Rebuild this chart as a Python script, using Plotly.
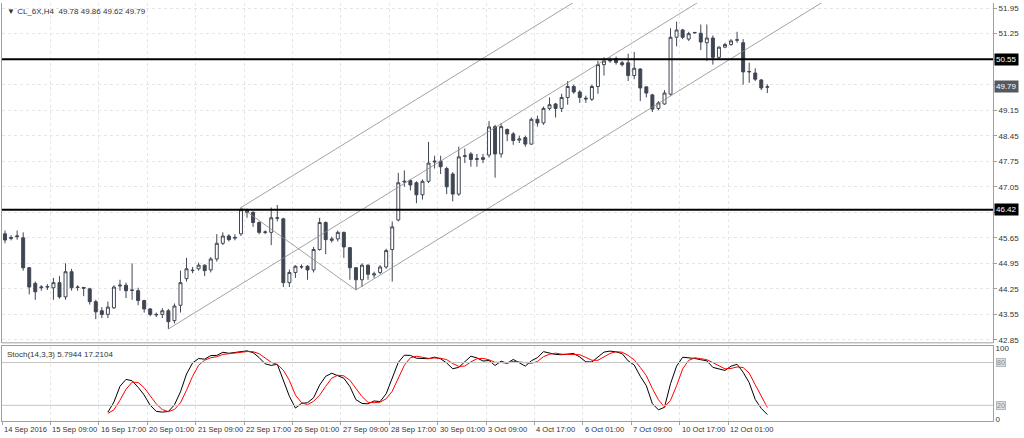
import numpy as np
import plotly.graph_objects as go

# H4 candles: open, close, high, low
opens = [45.76, 45.63, 45.68, 45.65, 44.83, 44.40, 44.28, 44.30, 44.28, 44.42,
         44.03, 44.72, 44.30, 44.29, 44.25, 43.90, 43.65, 43.55, 43.73, 44.33,
         44.35, 44.22, 44.20, 43.93, 43.70, 43.55, 43.55, 43.65, 43.38, 43.80,
         44.53, 44.75, 44.80, 44.90, 44.77, 45.07, 45.50, 45.70, 45.64, 45.76,
         46.40, 46.35, 46.07, 45.80, 45.80, 46.20, 46.17, 44.42, 44.70, 44.85,
         44.87, 44.77, 45.33, 46.07, 45.58, 45.62, 45.80, 45.38, 44.83, 44.50,
         44.90, 44.63, 44.70, 44.85, 45.33, 46.14, 47.18, 47.22, 47.16, 46.83,
         47.20, 47.73, 47.75, 47.55, 47.40, 46.85, 47.88, 47.95, 47.80, 47.80,
         47.92, 48.70, 47.95, 48.62, 48.50, 48.33, 48.40, 48.22, 48.90, 48.80,
         49.20, 49.32, 49.20, 49.50, 49.80, 49.65, 49.48, 49.45, 49.80, 50.40,
         50.50, 50.56, 50.45, 50.45, 50.10, 50.28, 49.79, 49.57, 49.20, 49.32,
         49.59, 51.15, 51.35, 51.10, 51.27, 51.26, 51.00, 51.13, 50.60, 50.88,
         50.95, 51.07, 51.00, 50.20, 50.17, 49.98, 49.78]
closes = [45.59, 45.66, 45.70, 44.83, 44.30, 44.17, 44.30, 44.31, 44.42, 44.03,
          44.72, 44.28, 44.29, 44.27, 43.90, 43.62, 43.55, 43.75, 44.30, 44.35,
          44.20, 44.21, 43.93, 43.70, 43.55, 43.54, 43.65, 43.35, 43.78, 44.42,
          44.80, 44.76, 44.90, 44.75, 45.07, 45.50, 45.70, 45.60, 45.66, 46.42,
          46.35, 46.07, 45.80, 45.81, 46.20, 46.19, 44.42, 44.70, 44.87, 44.86,
          44.77, 45.33, 46.07, 45.60, 45.62, 45.80, 45.40, 44.83, 44.50, 44.90,
          44.65, 44.66, 44.85, 45.30, 45.95, 47.16, 47.20, 47.10, 46.83, 47.20,
          47.70, 47.75, 47.60, 47.05, 46.85, 47.87, 47.90, 47.80, 47.82, 47.85,
          48.69, 47.95, 48.70, 48.50, 48.32, 48.36, 48.22, 48.90, 48.80, 49.20,
          49.30, 49.20, 49.50, 49.80, 49.65, 49.50, 49.46, 49.80, 50.40, 50.50,
          50.52, 50.46, 50.40, 50.10, 50.30, 49.76, 49.62, 49.18, 49.35, 49.62,
          51.15, 51.35, 51.15, 51.25, 51.28, 51.02, 51.13, 50.60, 50.88, 50.95,
          51.05, 51.08, 50.20, 50.21, 50.00, 49.76, 49.79]
highs = [45.85, 45.72, 45.85, 45.80, 44.85, 44.45, 44.35, 44.38, 44.55, 44.60,
         44.95, 44.80, 44.35, 44.30, 44.28, 43.95, 43.75, 43.90, 44.35, 44.50,
         44.42, 44.95, 44.28, 43.95, 43.72, 43.60, 43.72, 43.70, 43.85, 44.75,
         45.10, 44.85, 44.97, 44.92, 45.12, 45.75, 45.80, 45.75, 45.75, 46.48,
         46.45, 46.38, 46.10, 45.85, 46.48, 46.55, 46.20, 44.78, 44.90, 44.92,
         44.90, 45.40, 46.20, 46.10, 45.68, 45.85, 45.82, 45.40, 44.85, 44.95,
         44.92, 44.72, 44.90, 45.35, 46.10, 47.43, 47.50, 47.25, 47.20, 47.25,
         48.28, 47.90, 47.90, 47.60, 47.45, 48.15, 48.10, 48.00, 47.95, 47.95,
         48.85, 48.75, 48.80, 48.65, 48.55, 48.45, 48.45, 48.95, 49.00, 49.25,
         49.50, 49.35, 49.60, 49.95, 49.85, 49.70, 49.55, 49.85, 50.50, 50.60,
         50.60, 50.62, 50.50, 50.70, 50.75, 50.30, 49.80, 49.60, 49.40, 49.70,
         51.40, 51.58, 51.38, 51.30, 51.30, 51.50, 51.50, 51.20, 50.90, 51.00,
         51.10, 51.30, 51.10, 50.45, 50.30, 50.00, 49.86]
lows = [45.50, 45.58, 45.60, 44.75, 44.10, 43.95, 44.20, 44.22, 43.95, 43.98,
        43.95, 44.20, 44.20, 44.05, 43.82, 43.42, 43.45, 43.45, 43.70, 44.20,
        44.00, 43.95, 43.80, 43.60, 43.50, 43.48, 43.45, 43.15, 43.30, 43.60,
        44.45, 44.68, 44.75, 44.60, 44.70, 45.00, 45.45, 45.55, 45.58, 45.70,
        46.20, 45.95, 45.75, 45.75, 45.45, 46.10, 44.30, 44.30, 44.55, 44.80,
        44.50, 44.70, 45.30, 45.20, 45.52, 45.55, 45.10, 44.50, 44.22, 44.30,
        44.50, 44.55, 44.65, 44.80, 44.45, 46.10, 47.05, 46.95, 46.60, 46.70,
        47.15, 47.55, 47.40, 46.85, 46.65, 46.80, 47.70, 47.60, 47.60, 47.70,
        47.85, 47.30, 47.85, 48.30, 48.20, 48.25, 48.15, 48.20, 48.70, 48.75,
        49.15, 48.95, 49.10, 49.30, 49.60, 49.35, 49.35, 49.40, 49.60, 50.10,
        50.45, 50.40, 50.35, 49.95, 50.00, 49.40, 49.50, 49.10, 49.15, 49.30,
        49.55, 50.90, 51.10, 51.05, 51.25, 50.80, 50.50, 50.40, 50.55, 50.85,
        50.92, 51.00, 49.85, 49.90, 49.95, 49.70, 49.62]

# tick labels every 8 bars
date_labels = ["14 Sep 2016", "15 Sep 09:00", "16 Sep 17:00", "20 Sep 01:00",
               "21 Sep 09:00", "22 Sep 17:00", "26 Sep 01:00", "27 Sep 09:00",
               "28 Sep 17:00", "30 Sep 01:00", "3 Oct 09:00", "4 Oct 17:00",
               "6 Oct 01:00", "7 Oct 09:00", "10 Oct 17:00", "12 Oct 01:00"]
price_ticks = [42.85, 43.55, 44.25, 44.95, 45.65, 46.35, 47.05, 47.75, 48.45,
               49.15, 49.85, 50.55, 51.25, 51.95]
levels = [50.55, 46.42]
pivot_bars = [27, 39, 58]  # pitchfork anchors (low, high, low)
stoch_shown = [5.7944, 17.2104]  # values printed in the indicator header

o, c, h, l = map(np.array, (opens, closes, highs, lows))
idx = np.arange(len(c))

# Stochastic(14,3,3)
kp, slow, dp = 14, 3, 3
num = np.full(len(c), np.nan)
den = np.full(len(c), np.nan)
for i in range(kp - 1, len(c)):
    ll = l[i - kp + 1:i + 1].min()
    hh = h[i - kp + 1:i + 1].max()
    num[i] = c[i] - ll
    den[i] = hh - ll
K = np.full(len(c), np.nan)
for i in range(kp + slow - 2, len(c)):
    K[i] = 100 * num[i - slow + 1:i + 1].sum() / den[i - slow + 1:i + 1].sum()
D = np.full(len(c), np.nan)
for i in range(kp + slow + dp - 3, len(c)):
    D[i] = K[i - dp + 1:i + 1].mean()
start = kp + slow + dp - 3
K[:start] = np.nan

fig = go.Figure()
dark = "#3f4653"
fig.add_trace(go.Candlestick(
    x=idx, open=o, high=h, low=l, close=c, whiskerwidth=0,
    increasing=dict(fillcolor="white", line=dict(color=dark, width=1)),
    decreasing=dict(fillcolor=dark, line=dict(color=dark, width=1)),
    showlegend=False, hoverinfo="skip"))

# Andrews pitchfork
a, b, d = pivot_bars
p1 = (a, l[a]); p2 = (b, h[b]); p3 = (d, l[d])
mx, my = (p2[0] + p3[0]) / 2, (p2[1] + p3[1]) / 2
slope = (my - p1[1]) / (mx - p1[0])
xe = 200
for px_, py_ in (p1, p2, p3):
    fig.add_trace(go.Scatter(x=[px_, xe], y=[py_, py_ + slope * (xe - px_)],
                             mode="lines", line=dict(color="#8c8c8c", width=0.8),
                             showlegend=False, hoverinfo="skip"))
fig.add_trace(go.Scatter(x=[p2[0], p3[0]], y=[p2[1], p3[1]], mode="lines",
                         line=dict(color="#8c8c8c", width=0.8),
                         showlegend=False, hoverinfo="skip"))

fig.add_trace(go.Scatter(x=idx, y=K, mode="lines", line=dict(color="black", width=1),
                         yaxis="y2", showlegend=False, hoverinfo="skip"))
fig.add_trace(go.Scatter(x=idx, y=D, mode="lines", line=dict(color="red", width=1),
                         yaxis="y2", showlegend=False, hoverinfo="skip"))

for lv in levels:
    fig.add_shape(type="line", xref="paper", x0=0, x1=1, y0=lv, y1=lv,
                  line=dict(color="black", width=2))
for lv in (80, 20):
    fig.add_shape(type="line", xref="paper", x0=0, x1=1, y0=lv, y1=lv, yref="y2",
                  line=dict(color="#c4c4c4", width=1))

fnt = "Liberation Sans"
small = dict(family=fnt, size=8, color="#333333")
ann = []
tickpos = [8 * i - 0.5 for i in range(len(date_labels))]
for tp, lab in zip(tickpos, date_labels):
    ann.append(dict(x=tp, y=0, xref="x", yref="paper", yanchor="top", xanchor="left",
                    text=lab, showarrow=False, font=dict(family=fnt, size=7.6, color="#333333"),
                    yshift=-2))
boxed = levels + [closes[-1]]
for lv in levels:
    ann.append(dict(x=1, y=lv, xref="paper", yref="y", xanchor="left", text=f"{lv:.2f}",
                    showarrow=False, bgcolor="black", font=dict(family=fnt, size=8, color="white"),
                    borderpad=1, xshift=1))
ann.append(dict(x=1, y=closes[-1], xref="paper", yref="y", xanchor="left",
                text=f"{closes[-1]:.2f}", showarrow=False, bgcolor="#55595f",
                font=dict(family=fnt, size=8, color="white"), borderpad=1, xshift=1))
for lv in (80, 20):
    ann.append(dict(x=1, y=lv, xref="paper", yref="y2", xanchor="left", text=str(lv),
                    showarrow=False, bgcolor="#e0e0e0", bordercolor="#b8b8b8",
                    font=dict(family=fnt, size=7, color="#8a8a8a"),
                    borderpad=0, xshift=3))
ann.append(dict(x=0, y=1, xref="paper", yref="paper", xanchor="left", yanchor="top",
                text=f"▼ CL_6X,H4  {opens[-1]:.2f} {highs[-1]:.2f} {lows[-1]:.2f} {closes[-1]:.2f}",
                showarrow=False, font=small, xshift=3, yshift=-2))
ann.append(dict(x=0, y=0.179, xref="paper", yref="paper", xanchor="left", yanchor="top",
                text=f"Stoch(14,3,3) {stoch_shown[0]:.4f} {stoch_shown[1]:.4f}",
                showarrow=False, font=small, xshift=3, yshift=-2))

ticktext = ["" if any(abs(v - bv) < 0.1 for bv in boxed) else f"{v:.2f}" for v in price_ticks]
grid = dict(showgrid=True, gridcolor="#e6e6e6", griddash="dot", gridwidth=1)
fig.update_layout(
    width=1024, height=438, margin=dict(l=2, r=31, t=3, b=17),
    paper_bgcolor="white", plot_bgcolor="white",
    xaxis=dict(range=[-0.5, 163.3], tickvals=tickpos, showticklabels=False,
               rangeslider=dict(visible=False), showline=True, linecolor="#a0a0a0",
               mirror=True, zeroline=False, ticks="outside", ticklen=3, tickcolor="#a0a0a0",
               anchor="y2", **grid),
    yaxis=dict(domain=[0.187, 1], range=[42.77, 52.09], side="right",
               tickvals=price_ticks, ticktext=ticktext,
               tickfont=small, showline=True, linecolor="#a0a0a0", mirror=True,
               ticks="outside", ticklen=3, tickcolor="#a0a0a0", zeroline=False, **grid),
    yaxis2=dict(domain=[0, 0.179], range=[-2, 103], side="right", tickvals=[0, 100],
                tickfont=small, showline=True, linecolor="#a0a0a0", mirror=True,
                showgrid=False, zeroline=False),
    annotations=ann,
)
# mirror the x frame onto the price panel
fig.add_shape(type="line", xref="paper", yref="paper", x0=0, x1=1, y0=0.187, y1=0.187,
              line=dict(color="#a0a0a0", width=1))
fig.write_html("out.html", config={"displayModeBar": False},
               post_script="document.body.style.margin='0';")
